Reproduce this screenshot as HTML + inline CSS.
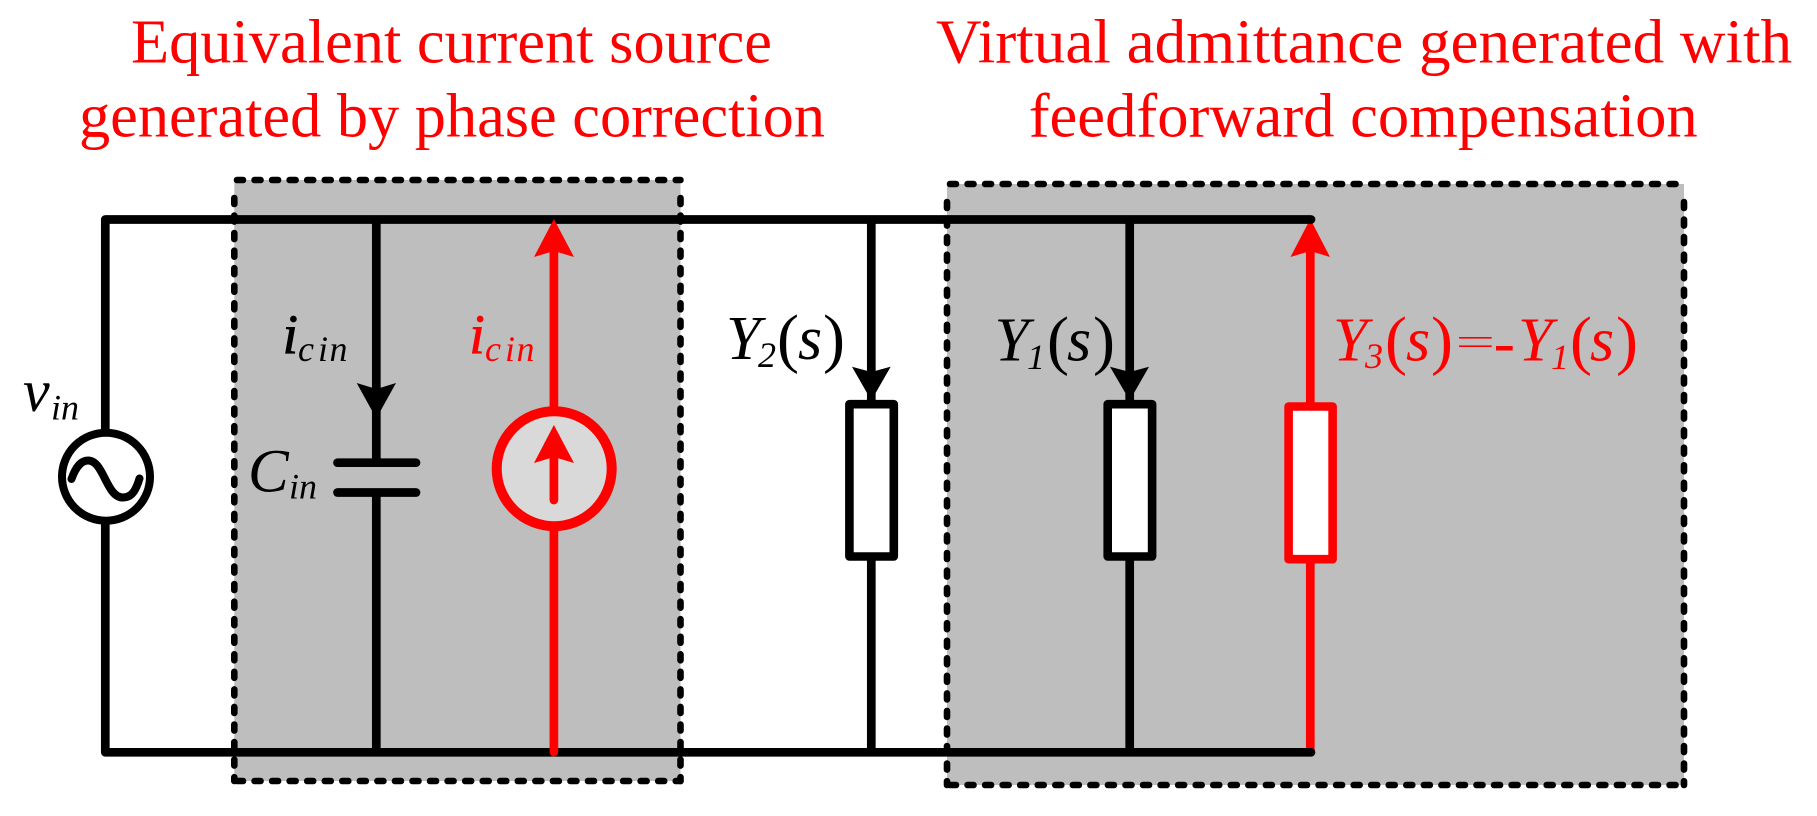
<!DOCTYPE html>
<html>
<head>
<meta charset="utf-8">
<style>
html,body{margin:0;padding:0;background:#fff}
svg{display:block}
text{font-family:"Liberation Serif",serif}
.i{font-style:italic}
</style>
</head>
<body>
<svg width="1817" height="816" viewBox="0 0 1817 816" xmlns="http://www.w3.org/2000/svg">
<rect width="1817" height="816" fill="#fff"/>

<!-- shaded regions -->
<rect x="234.3" y="180" width="446.2" height="601" fill="#bebebe"/>
<rect x="947" y="184" width="737" height="601" fill="#bebebe"/>
<g fill="none" stroke="#000" stroke-width="6.6" stroke-linecap="round" stroke-dasharray="6 11.55">
<path d="M237 180H680.5"/>
<path d="M234.3 198V781"/>
<path d="M680.5 198V781"/>
<path d="M237 781H680.5"/>
<path d="M950 184H1684"/>
<path d="M947 202V785"/>
<path d="M1684 202V785"/>
<path d="M950 785H1684"/>
</g>

<!-- red branch under the wire -->
<path d="M1310.3 250V752" stroke="#f00" stroke-width="8.7" fill="none"/>
<polygon points="1310.3,219 1330,257 1310.3,251 1290.5,257" fill="#f00"/>
<rect x="1288.6" y="406.5" width="44" height="152.7" fill="#fff" stroke="#f00" stroke-width="8.6" stroke-linejoin="round"/>

<!-- black wiring -->
<path d="M1311 219.5H105.3V752.3H1311" fill="none" stroke="#000" stroke-width="8.7" stroke-linecap="round" stroke-linejoin="round"/>
<g fill="none" stroke="#000" stroke-width="8.7">
<path d="M376.3 219V462"/>
<path d="M376.3 492V752"/>
<path d="M871.3 219V752"/>
<path d="M1129.7 219V752"/>
</g>

<!-- capacitor -->
<g stroke="#000" stroke-width="8.7" stroke-linecap="round">
<path d="M337.5 462.7H416"/>
<path d="M337.5 492.5H416"/>
</g>
<polygon points="376.3,418.5 356.7,383 376.3,389 396,383" fill="#000"/>

<!-- AC source -->
<circle cx="106" cy="476.7" r="44" fill="#fff" stroke="#000" stroke-width="8"/>
<path d="M71.5 479C76 466 82 460.5 88 460.5C104 460.5 106 497.5 123 497.5C132 497.5 136 490 139.5 478.5" fill="none" stroke="#000" stroke-width="8" stroke-linecap="round"/>

<!-- admittances -->
<rect x="849.4" y="404.2" width="44.4" height="152.3" fill="#fff" stroke="#000" stroke-width="8.6" stroke-linejoin="round"/>
<rect x="1107.7" y="404.2" width="44.4" height="152.3" fill="#fff" stroke="#000" stroke-width="8.6" stroke-linejoin="round"/>
<polygon points="871.3,400.5 852,366.7 871.3,372 890.7,366.7" fill="#000"/>
<polygon points="1129.7,400.5 1110,366.7 1129.7,372 1149,366.7" fill="#000"/>

<!-- red current source -->
<path d="M553.9 250V752" stroke="#f00" stroke-width="8.7" fill="none"/>
<circle cx="553.9" cy="752" r="4.35" fill="#f00"/>
<polygon points="553.9,219 574,257 553.9,251 534,257" fill="#f00"/>
<circle cx="554.2" cy="468.7" r="57.5" fill="#d9d9d9" stroke="#f00" stroke-width="10"/>
<path d="M553.9 458V500" stroke="#f00" stroke-width="8.7" stroke-linecap="round" fill="none"/>
<polygon points="553.9,425 574,463 553.9,457 534,463" fill="#f00"/>

<!-- titles -->
<g fill="#f00" font-size="62.4">
<text x="131" y="62.7" textLength="641" lengthAdjust="spacingAndGlyphs">Equivalent current source</text>
<text x="79" y="136.7" textLength="746" lengthAdjust="spacingAndGlyphs">generated by phase correction</text>
<text x="936" y="62.7" textLength="856" lengthAdjust="spacingAndGlyphs">Virtual admittance generated with</text>
<text x="1028.7" y="136.7" textLength="669" lengthAdjust="spacingAndGlyphs">feedforward compensation</text>
</g>

<!-- v_in -->
<text class="i" x="23" y="411" font-size="60">v</text>
<text class="i" x="51" y="419.3" font-size="36">in</text>

<!-- i_cin black -->
<text class="i" x="282.5" y="353.3" font-size="56" stroke="#000" stroke-width="0.8">i</text>
<text class="i" x="298 318 329.5" y="361" font-size="36">cin</text>
<!-- C_in -->
<text class="i" x="248" y="491.7" font-size="61">C</text>
<text class="i" x="289" y="498.3" font-size="36">in</text>
<!-- i_cin red -->
<g fill="#f00">
<text class="i" x="469.2" y="353.3" font-size="56" stroke="#f00" stroke-width="0.8">i</text>
<text class="i" x="485 505 516.5" y="361" font-size="36">cin</text>
</g>

<!-- Y2(s) -->
<text class="i" x="726" y="359" font-size="62">Y</text>
<text class="i" x="758" y="367" font-size="36">2</text>
<text x="777" y="360" font-size="66">(</text>
<text class="i" x="798" y="359" font-size="62">s</text>
<text x="823" y="360" font-size="66">)</text>

<!-- Y1(s) -->
<text class="i" x="994.5" y="360.7" font-size="62">Y</text>
<text class="i" x="1027" y="369" font-size="36">1</text>
<text x="1047" y="362" font-size="66">(</text>
<text class="i" x="1067" y="360.7" font-size="62">s</text>
<text x="1093" y="362" font-size="66">)</text>

<!-- Y3(s)=-Y1(s) -->
<g fill="#f00">
<text class="i" x="1333" y="360.7" font-size="62">Y</text>
<text class="i" x="1365" y="368" font-size="36">3</text>
<text x="1385" y="362" font-size="66">(</text>
<text class="i" x="1406" y="360.7" font-size="62">s</text>
<text x="1431" y="362" font-size="66">)</text>
<rect x="1459" y="337" width="32.7" height="1.6"/>
<rect x="1459" y="345.4" width="32.7" height="1.6"/>
<rect x="1496" y="346" width="16.7" height="4.5"/>
<text class="i" x="1518" y="360.7" font-size="62">Y</text>
<text class="i" x="1551" y="369" font-size="36">1</text>
<text x="1570" y="362" font-size="66">(</text>
<text class="i" x="1590" y="360.7" font-size="62">s</text>
<text x="1616" y="362" font-size="66">)</text>
</g>
</svg>
</body>
</html>
